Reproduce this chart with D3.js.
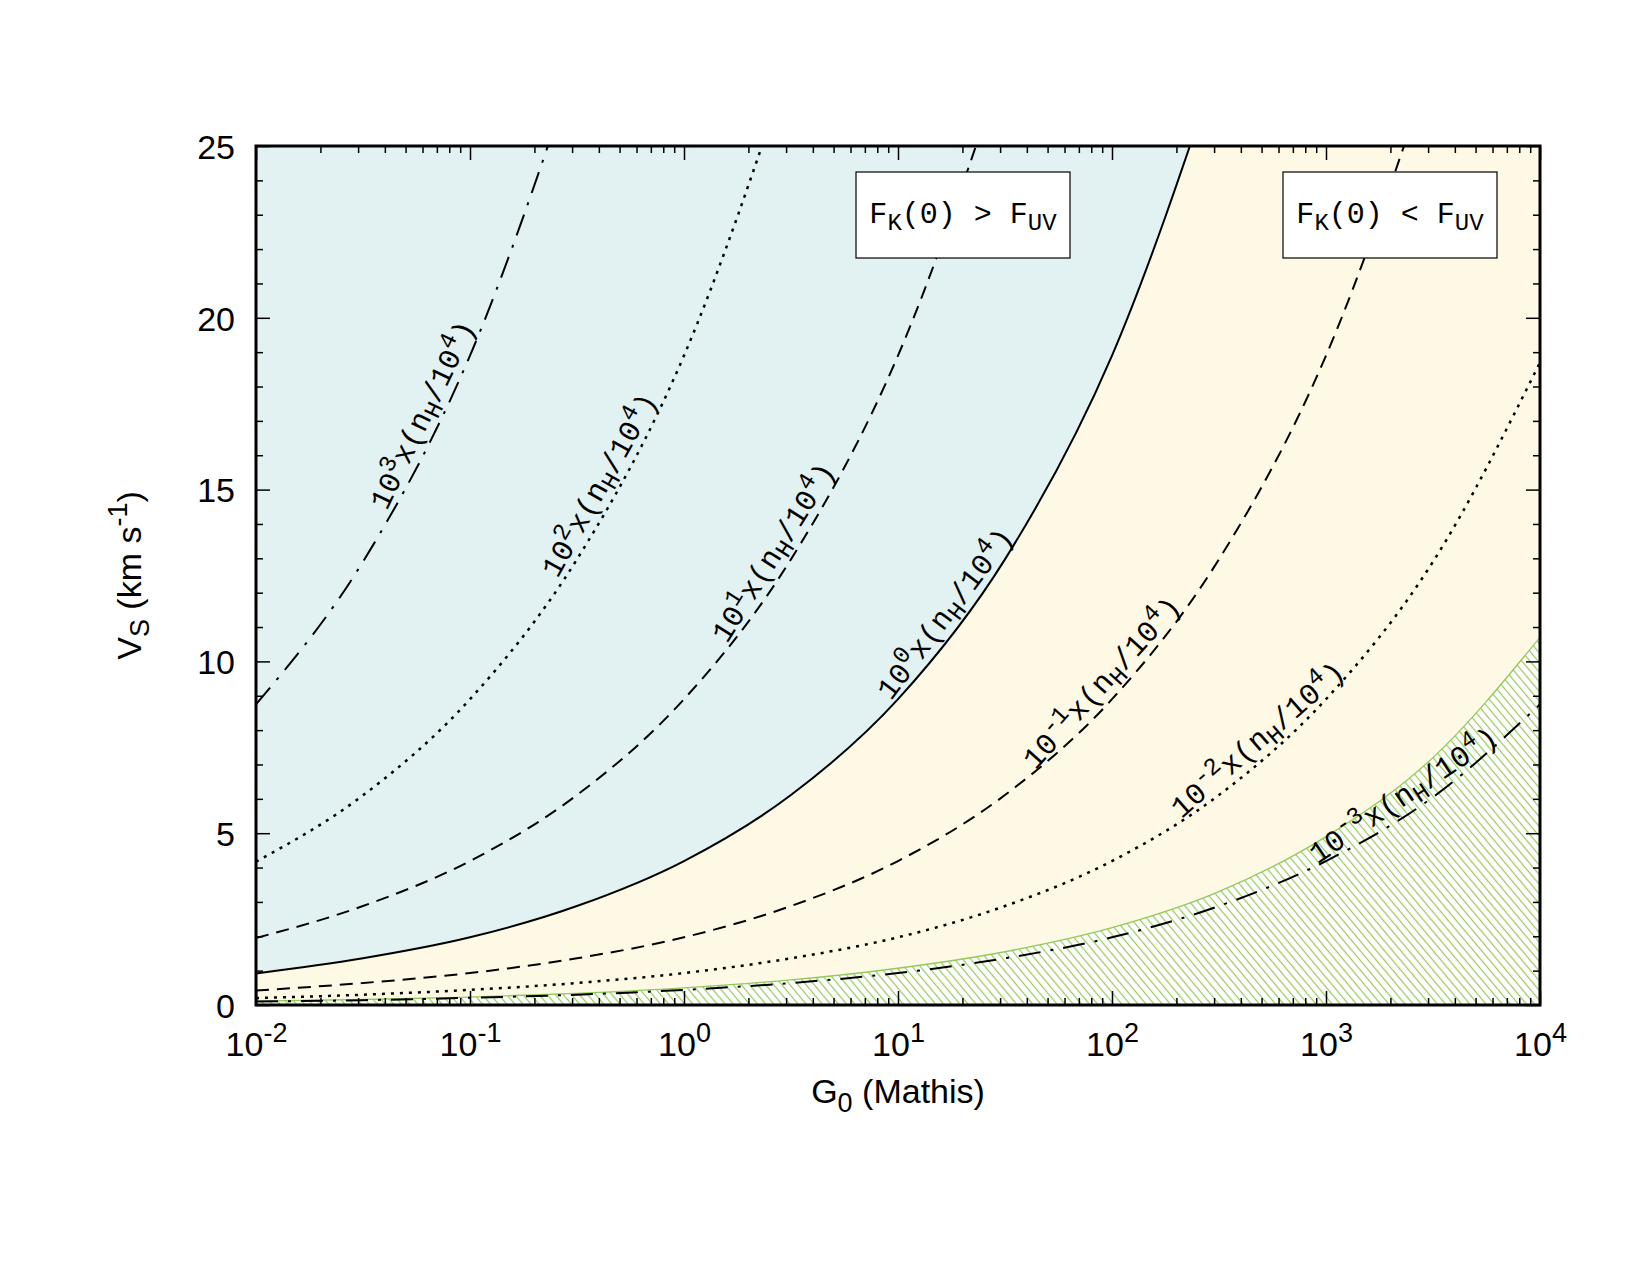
<!DOCTYPE html>
<html>
<head>
<meta charset="utf-8" />
<title>Vs vs G0</title>
<script src="https://d3js.org/d3.v7.min.js"></script>
<style>
  body { margin: 0; background: #fff; }
  .sans { font-family: "Liberation Sans", Arial, Helvetica, sans-serif; font-size: 34px; fill: #000; }
  .mono { font-family: "Liberation Mono", "Courier New", monospace; font-size: 30px; fill: #000; }
</style>
</head>
<body>
<svg id="chart"></svg>
<script>
// ---- data ----
var g0Grid = [0.01, 0.0316, 0.1, 0.316, 1, 3.16, 10, 31.6, 100, 316, 1000, 3162, 10000];

var vsE3  = [8.75, 12.9, 18.9, 27.5];
var vsE2  = [4.17, 6.1, 8.9, 12.97, 18.9, 27.5];
var vsE1  = [1.95, 2.88, 4.19, 6.11, 8.9, 12.97, 18.9, 27.5];
var vsE0  = [0.92, 1.36, 1.97, 2.88, 4.19, 6.11, 8.9, 12.97, 18.9, 27.5];
var vsEm1 = [0.42, 0.64, 0.93, 1.36, 1.97, 2.88, 4.19, 6.11, 8.9, 12.97, 18.9, 27.5];
var vsEm2 = [0.2, 0.3, 0.44, 0.64, 0.93, 1.36, 1.97, 2.88, 4.19, 6.11, 8.9, 12.9, 18.7];
var vsEm3 = [0.1, 0.14, 0.21, 0.3, 0.44, 0.64, 0.93, 1.36, 1.97, 2.88, 4.19, 6.05, 8.75];
var vsHatch = [0.11, 0.16, 0.23, 0.34, 0.5, 0.73, 1.07, 1.55, 2.25, 3.3, 4.9, 7.2, 10.7];

var curveExps = ["3", "2", "1", "0", "-1", "-2", "-3"];
var curveVals = [vsE3, vsE2, vsE1, vsE0, vsEm1, vsEm2, vsEm3];
var labelAt = [0.072, 0.48, 3.1, 19.5, 104, 548, 2570];

var xMajor = [1e-2, 1e-1, 1e0, 1e1, 1e2, 1e3, 1e4];
var xMajorExp = ["-2", "-1", "0", "1", "2", "3", "4"];
var yMajor = [0, 5, 10, 15, 20, 25];

// ---- styles ----
var curveDash = ["22,10,3,10", "3,6", "13,8", null, "13,8", "3,6", "22,10,3,10"];
var curveWidth = [2, 2.5, 2, 2, 2, 2.5, 2];
var blueFill = "#e2f1f1", yellowFill = "#fdf9e4", green = "#93c95a";

// ---- layout ----
var width = 1650, height = 1275;
var margin = {top: 146, right: 110, bottom: 270, left: 256};
var plotW = width - margin.left - margin.right;
var plotH = height - margin.top - margin.bottom;
var x0 = margin.left, x1 = margin.left + plotW;
var y0 = margin.top + plotH, y1 = margin.top;

var svg = d3.select("#chart").attr("width", width).attr("height", height);

var x = d3.scaleLog().domain([1e-2, 1e4]).range([x0, x1]);
var y = d3.scaleLinear().domain([0, 25]).range([y0, y1]);

var defs = svg.append("defs");
defs.append("clipPath").attr("id", "plotClip")
  .append("rect").attr("x", x0).attr("y", y1).attr("width", plotW).attr("height", plotH);
var pat = defs.append("pattern").attr("id", "hatch")
  .attr("patternUnits", "userSpaceOnUse")
  .attr("width", 6.2).attr("height", 10)
  .attr("patternTransform", "rotate(-40)");
pat.append("line").attr("x1", 3.1).attr("x2", 3.1).attr("y1", 0).attr("y2", 10)
  .attr("stroke", green).attr("stroke-width", 1.2);

var plot = svg.append("g").attr("clip-path", "url(#plotClip)");

function pts(vals) {
  return vals.map(function(v, i) { return [g0Grid[i], v]; });
}

var line = d3.line()
  .x(function(d) { return x(d[0]); })
  .y(function(d) { return y(d[1]); })
  .curve(d3.curveMonotoneX);

// background regions
plot.append("rect").attr("x", x0).attr("y", y1).attr("width", plotW).attr("height", plotH)
  .attr("fill", yellowFill);

var aboveArea = d3.area()
  .x(function(d) { return x(d[0]); })
  .y0(y(25) - 40)
  .y1(function(d) { return y(d[1]); })
  .curve(d3.curveMonotoneX);
plot.append("path").datum(pts(vsE0)).attr("d", aboveArea).attr("fill", blueFill);

var belowArea = d3.area()
  .x(function(d) { return x(d[0]); })
  .y0(y(0))
  .y1(function(d) { return y(d[1]); })
  .curve(d3.curveMonotoneX);
plot.append("path").datum(pts(vsHatch)).attr("d", belowArea).attr("fill", "#fff");
plot.append("path").datum(pts(vsHatch)).attr("d", belowArea).attr("fill", "url(#hatch)");
plot.append("path").datum(pts(vsHatch)).attr("d", line)
  .attr("fill", "none").attr("stroke", green).attr("stroke-width", 1.3);

// curves
var curveNodes = [];
curveVals.forEach(function(vals, i) {
  var p = plot.append("path").datum(pts(vals)).attr("d", line)
    .attr("fill", "none").attr("stroke", "#000")
    .attr("stroke-width", curveWidth[i]);
  if (curveDash[i]) p.attr("stroke-dasharray", curveDash[i]);
  curveNodes.push(p.node());
});

// labels along curves
function lengthAtX(node, tx) {
  var lo = 0, hi = node.getTotalLength();
  for (var k = 0; k < 40; k++) {
    var mid = (lo + hi) / 2;
    if (node.getPointAtLength(mid).x < tx) lo = mid; else hi = mid;
  }
  return lo;
}

var labels = svg.append("g");
curveNodes.forEach(function(node, i) {
  var L = lengthAtX(node, x(labelAt[i]));
  var p = node.getPointAtLength(L);
  var a = node.getPointAtLength(L - 6), b = node.getPointAtLength(L + 6);
  var ang = Math.atan2(b.y - a.y, b.x - a.x) * 180 / Math.PI;
  var t = labels.append("text").attr("class", "mono")
    .attr("transform", "translate(" + p.x + "," + p.y + ") rotate(" + ang + ")")
    .attr("y", -9).attr("text-anchor", "middle");
  t.append("tspan").text("10");
  t.append("tspan").attr("dy", -12).attr("font-size", 24).text(curveExps[i]);
  t.append("tspan").attr("dy", 12).text("x(n");
  t.append("tspan").attr("dy", 6).attr("font-size", 24).text("H");
  t.append("tspan").attr("dy", -6).text("/10");
  t.append("tspan").attr("dy", -12).attr("font-size", 24).text("4");
  t.append("tspan").attr("dy", 12).text(")");
});

// legend boxes
var boxes = [{x: 856, sign: ">"}, {x: 1283, sign: "<"}];
boxes.forEach(function(bx) {
  svg.append("rect").attr("x", bx.x).attr("y", 172).attr("width", 214).attr("height", 86)
    .attr("fill", "#fff").attr("stroke", "#000").attr("stroke-width", 1.2);
  var t = svg.append("text").attr("class", "mono")
    .attr("x", bx.x + 107).attr("y", 223).attr("text-anchor", "middle");
  t.append("tspan").text("F");
  t.append("tspan").attr("dy", 7).attr("font-size", 24).text("K");
  t.append("tspan").attr("dy", -7).text("(0) " + bx.sign + " F");
  t.append("tspan").attr("dy", 7).attr("font-size", 24).text("UV");
});

// axes
var xMinor = x.ticks().filter(function(d) { return xMajor.indexOf(d) < 0; });
var yMinor = d3.range(0, 26).filter(function(d) { return d % 5 !== 0; });

function styleAxis(g) {
  g.select(".domain").remove();
  g.selectAll(".tick line").attr("stroke-width", 1.5);
}

svg.append("g").attr("transform", "translate(0," + y0 + ")")
  .call(d3.axisBottom(x).tickValues(xMinor).tickSize(-7).tickFormat("")).call(styleAxis);
svg.append("g").attr("transform", "translate(0," + y1 + ")")
  .call(d3.axisTop(x).tickValues(xMinor).tickSize(-7).tickFormat("")).call(styleAxis);
var xBottom = svg.append("g").attr("transform", "translate(0," + y0 + ")")
  .call(d3.axisBottom(x).tickValues(xMajor).tickSize(-14).tickFormat("")).call(styleAxis);
svg.append("g").attr("transform", "translate(0," + y1 + ")")
  .call(d3.axisTop(x).tickValues(xMajor).tickSize(-14).tickFormat("")).call(styleAxis);

svg.append("g").attr("transform", "translate(" + x0 + ",0)")
  .call(d3.axisLeft(y).tickValues(yMinor).tickSize(-7).tickFormat("")).call(styleAxis);
svg.append("g").attr("transform", "translate(" + x1 + ",0)")
  .call(d3.axisRight(y).tickValues(yMinor).tickSize(-7).tickFormat("")).call(styleAxis);
var yLeft = svg.append("g").attr("transform", "translate(" + x0 + ",0)")
  .call(d3.axisLeft(y).tickValues(yMajor).tickSize(-14).tickFormat("")).call(styleAxis);
svg.append("g").attr("transform", "translate(" + x1 + ",0)")
  .call(d3.axisRight(y).tickValues(yMajor).tickSize(-14).tickFormat("")).call(styleAxis);

xBottom.selectAll(".tick").each(function(d, i) {
  var t = d3.select(this).append("text").attr("class", "sans")
    .attr("y", 51).attr("text-anchor", "middle");
  t.append("tspan").text("10");
  t.append("tspan").attr("dy", -14).attr("font-size", 27).text(xMajorExp[i]);
});

yLeft.selectAll(".tick").append("text").attr("class", "sans")
  .attr("x", -21).attr("dy", "0.36em").attr("text-anchor", "end")
  .text(function(d) { return d; });

// frame
svg.append("rect").attr("x", x0).attr("y", y1).attr("width", plotW).attr("height", plotH)
  .attr("fill", "none").attr("stroke", "#000").attr("stroke-width", 3);

// axis titles
var xt = svg.append("text").attr("class", "sans")
  .attr("x", (x0 + x1) / 2).attr("y", 1103).attr("text-anchor", "middle");
xt.append("tspan").text("G");
xt.append("tspan").attr("dy", 9).attr("font-size", 27).text("0");
xt.append("tspan").attr("dy", -9).text(" (Mathis)");

var yt = svg.append("text").attr("class", "sans")
  .attr("transform", "translate(141," + ((y0 + y1) / 2) + ") rotate(-90)")
  .attr("text-anchor", "middle");
yt.append("tspan").text("V");
yt.append("tspan").attr("dy", 8).attr("font-size", 27).text("S");
yt.append("tspan").attr("dy", -8).text(" (km s");
yt.append("tspan").attr("dy", -14).attr("font-size", 27).text("-1");
yt.append("tspan").attr("dy", 14).text(")");
</script>
</body>
</html>
